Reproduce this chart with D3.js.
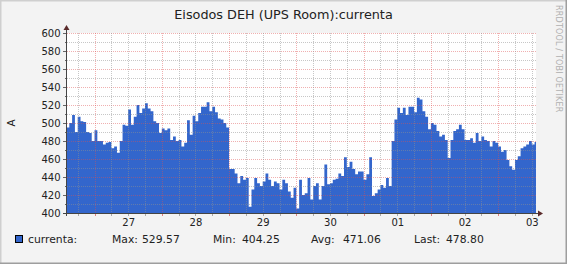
<!DOCTYPE html>
<html>
<head>
<meta charset="utf-8">
<script src="https://cdn.jsdelivr.net/npm/d3@7"></script>
<style>
body{margin:0;background:#f3f3f3}
svg{display:block;font-family:"DejaVu Sans",sans-serif}
</style>
</head>
<body>
<div id="chart"></div>
<script>
// hourly samples, first one at 26 Jun 02:00
const startTime = Date.UTC(2013, 5, 26, 2, 0);
const endTime = Date.UTC(2013, 6, 3, 1, 30);
const currenta = [
	495,500,509,490,507,502,501,490,489,480,492,480,480,476,478,479,472,474,467,480,498,497,515,498,
	507,520,511,516,522,516,513,502,500,489,494,492,494,481,485,480,481,474,478,503,487,508,502,511,
	518,518,523,513,518,512,505,504,500,495,449,449,444,433,441,437,439,407,426,439,433,430,435,444,
	437,430,435,433,426,437,433,424,417,428,405,437,420,422,439,415,430,433,415,430,454,432,433,437,
	438,444,441,462,451,457,449,443,446,446,437,443,462,419,422,426,431,428,439,430,480,504,517,511,
	517,509,518,518,512,528,526,513,507,493,500,498,491,485,487,481,461,481,491,493,498,493,481,481,
	483,478,489,480,485,481,480,474,480,478,474,468,470,459,452,448,459,463,472,474,476,480,476,479
];
const yTicks = [400,420,440,460,480,500,520,540,560,580,600];
const dayLabels = ["27","28","29","30","01","02","03"];
const legendNames = ["Max:","Min:","Avg:","Last:"];
const legendValues = ["529.57","404.25","471.06","478.80"];

const W = 567, H = 264;
const plotL = 66.5, plotR = 536, plotT = 33, plotB = 213;
const areaColor = "#3366cc";
const minorColor = "rgba(143,143,143,0.5)";
const majorColor = "rgba(222,80,80,0.45)";

let svg = d3.select("#chart").append("svg").attr("width", W).attr("height", H);

// frame shading
svg.append("rect").attr("width", W).attr("height", H).attr("fill", "#f3f3f3");
svg.append("path").attr("d", `M0,${H}V0H${W}`).attr("fill","none").attr("stroke","#cfcfcf").attr("stroke-width",3);
svg.append("path").attr("d", `M0,${H}H${W}V0`).attr("fill","none").attr("stroke","#9e9e9e").attr("stroke-width",3);

let x = d3.scaleUtc().domain([startTime, endTime]).range([plotL, plotR]);
let y = d3.scaleLinear().domain([400, 600]).range([plotB, plotT]);

svg.append("rect").attr("x", plotL).attr("y", plotT).attr("width", plotR - plotL).attr("height", plotB - plotT).attr("fill", "#fff");

let data = currenta.map((v, i) => ({t: startTime + i * 3600e3, v: v}));
data.push({t: endTime, v: currenta[currenta.length - 1]});

let area = d3.area()
	.x(d => x(d.t))
	.y0(plotB)
	.y1(d => y(d.v))
	.curve(d3.curveStepAfter);
svg.append("path").datum(data).attr("d", area).attr("fill", areaColor);

// grid on top of the area, like rrdtool
let grid = svg.append("g").attr("shape-rendering", "crispEdges").attr("stroke-dasharray", "1,1");
d3.range(410, 601, 10).forEach(v => {
	let yy = Math.round(y(v)) + 0.5;
	grid.append("line").attr("x1", plotL).attr("x2", plotR).attr("y1", yy).attr("y2", yy)
		.attr("stroke", v % 20 == 0 ? majorColor : minorColor);
});
d3.utcHour.every(6).range(startTime, endTime).forEach(t => {
	let xx = Math.round(x(t)) + 0.5;
	let major = new Date(t).getUTCHours() == 12;
	grid.append("line").attr("x1", xx).attr("x2", xx).attr("y1", plotT).attr("y2", plotB)
		.attr("stroke", major ? majorColor : minorColor);
	svg.append("line").attr("x1", xx).attr("x2", xx).attr("y1", plotB).attr("y2", plotB + 3)
		.attr("stroke", major ? "#e08080" : "#aaa").attr("shape-rendering", "crispEdges");
});
d3.range(400, 601, 10).forEach(v => {
	let yy = Math.round(y(v)) + 0.5;
	svg.append("line").attr("x1", v % 20 == 0 ? 63 : 64.5).attr("x2", plotL).attr("y1", yy).attr("y2", yy)
		.attr("stroke", "#666").attr("shape-rendering", "crispEdges");
});

// y axis labels
let yAxis = d3.axisLeft(y).tickValues(yTicks).tickSize(0).tickPadding(6).tickFormat(d3.format("d"));
let gy = svg.append("g").attr("transform", `translate(${plotL},0)`).call(yAxis);
gy.select(".domain").remove();
gy.selectAll("text").attr("font-size", 10).attr("fill", "#222").attr("font-family", "DejaVu Sans");

// x axis labels at midnight
let days = d3.utcDay.range(d3.utcDay.ceil(startTime), endTime);
let xAxis = d3.axisBottom(x).tickValues(days).tickSize(0).tickPadding(6)
	.tickFormat((d, i) => dayLabels[i]);
let gx = svg.append("g").attr("transform", `translate(0,${plotB})`).call(xAxis);
gx.select(".domain").remove();
gx.selectAll("text").attr("font-size", 10).attr("fill", "#222").attr("font-family", "DejaVu Sans");

// axes with arrows
svg.append("line").attr("x1", plotL).attr("x2", plotL).attr("y1", plotB + 3).attr("y2", 28)
	.attr("stroke", "#444").attr("shape-rendering", "crispEdges");
svg.append("line").attr("x1", 63).attr("x2", 540).attr("y1", plotB + 0.5).attr("y2", plotB + 0.5)
	.attr("stroke", "#444").attr("shape-rendering", "crispEdges");
svg.append("path").attr("d", `M${plotL - 3},30L${plotL},25L${plotL + 3},30Z`).attr("fill", "#5a2a2a");
svg.append("path").attr("d", `M538,${plotB - 2.5}L543,${plotB + 0.5}L538,${plotB + 3.5}Z`).attr("fill", "#5a2a2a");

// title
svg.append("text").attr("x", W / 2).attr("y", 19).attr("text-anchor", "middle")
	.attr("font-size", 12.8).attr("fill", "#222").text("Eisodos DEH (UPS Room):currenta");

// unit label
svg.append("text").attr("transform", "translate(15,123) rotate(-90)").attr("text-anchor", "middle")
	.attr("font-size", 10.5).attr("fill", "#222").text("A");

// watermark
svg.append("text").attr("transform", "translate(556,5) rotate(90)")
	.attr("font-size", 8).attr("fill", "#b0b0b0").attr("letter-spacing", 0.2).text("RRDTOOL / TOBI OETIKER");

// legend
svg.append("rect").attr("x", 15.5).attr("y", 235.5).attr("width", 7).attr("height", 7)
	.attr("fill", areaColor).attr("stroke", "#000");
let legend = svg.append("g").attr("font-size", 10.8).attr("fill", "#222");
legend.append("text").attr("x", 28).attr("y", 242.5).text("currenta:");
const nameX = [112, 213, 311, 414];
const valueX = [142, 242, 343, 446];
legendNames.forEach((n, i) => {
	legend.append("text").attr("x", nameX[i]).attr("y", 242.5).text(n);
	legend.append("text").attr("x", valueX[i]).attr("y", 242.5).text(legendValues[i]);
});
</script>
</body>
</html>
